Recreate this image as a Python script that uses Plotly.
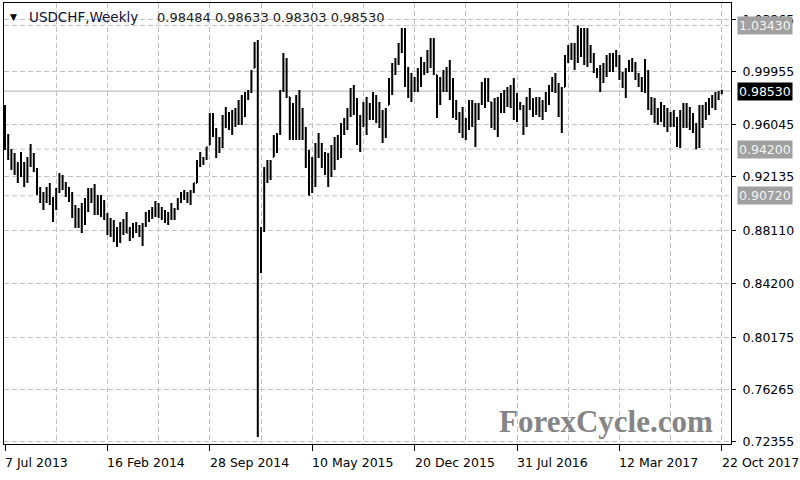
import pandas as pd
import plotly.graph_objects as go

symbol_title = "USDCHF,Weekly"
last_quote = "0.98484 0.98633 0.98303 0.98530"

dates = pd.date_range("2013-07-07", periods=225, freq="7D")

open_ = [
    0.9637, 0.9436, 0.9346, 0.9309, 0.9249, 0.9302, 0.9234, 0.9264, 0.9354, 0.9324,
    0.9257, 0.9085, 0.9033, 0.9078, 0.9085, 0.9011, 0.9048, 0.9123, 0.9175, 0.9123,
    0.9085, 0.9033, 0.8921, 0.8906, 0.8906, 0.8958, 0.9041, 0.9078, 0.9048, 0.9003,
    0.8996, 0.8966, 0.8899, 0.8839, 0.8809, 0.8765, 0.8802, 0.8839, 0.8876, 0.8794,
    0.8817, 0.8839, 0.8809, 0.8787, 0.8861, 0.8921, 0.8944, 0.8973, 0.8966, 0.8944,
    0.8921, 0.8906, 0.8944, 0.8936, 0.8973, 0.9048, 0.9078, 0.9063, 0.9063, 0.9108,
    0.9167, 0.9331, 0.9331, 0.9354, 0.9451, 0.9600, 0.9518, 0.9451, 0.9503, 0.9652,
    0.9630, 0.9622, 0.9652, 0.9690, 0.9712, 0.9749, 0.9824, 0.9854, 1.0025, 1.0182,
    0.8600, 0.8809, 0.9257, 0.9264, 0.9361, 0.9466, 0.9533, 0.9854, 0.9951, 0.9809,
    0.9630, 0.9652, 0.9675, 0.9607, 0.9496, 0.9287, 0.9227, 0.9302, 0.9443, 0.9376,
    0.9317, 0.9264, 0.9331, 0.9384, 0.9428, 0.9481, 0.9585, 0.9645, 0.9719, 0.9787,
    0.9682, 0.9540, 0.9667, 0.9667, 0.9697, 0.9742, 0.9719, 0.9675, 0.9593, 0.9615,
    0.9749, 0.9936, 1.0033, 1.0092, 1.0204, 1.0145, 0.9921, 0.9883, 0.9906, 0.9936,
    0.9995, 1.0025, 1.0063, 1.0137, 1.0115, 0.9973, 0.9854, 0.9928, 0.9936, 0.9936,
    0.9801, 0.9712, 0.9645, 0.9622, 0.9570, 0.9645, 0.9690, 0.9600, 0.9697, 0.9757,
    0.9839, 0.9861, 0.9772, 0.9682, 0.9660, 0.9764, 0.9779, 0.9809, 0.9816, 0.9794,
    0.9734, 0.9742, 0.9719, 0.9697, 0.9794, 0.9734, 0.9742, 0.9734, 0.9712, 0.9772,
    0.9824, 0.9891, 0.9913, 0.9846, 0.9712, 0.9883, 1.0115, 1.0152, 1.0115, 1.0204,
    1.0219, 1.0189, 1.0182, 1.0130, 1.0070, 0.9995, 0.9958, 0.9988, 1.0040, 1.0070,
    1.0070, 1.0100, 1.0040, 0.9943, 0.9913, 1.0018, 1.0048, 1.0003, 0.9943, 0.9898,
    0.9951, 0.9861, 0.9742, 0.9712, 0.9667, 0.9697, 0.9667, 0.9637, 0.9645, 0.9652,
    0.9593, 0.9570, 0.9667, 0.9667, 0.9652, 0.9615, 0.9548, 0.9585, 0.9660, 0.9704,
    0.9742, 0.9779, 0.9779, 0.9816, 0.98484,
]

high = [
    0.9749, 0.9533, 0.9421, 0.9391, 0.9324, 0.9399, 0.9324, 0.9361, 0.9458, 0.9391,
    0.9279, 0.9137, 0.9100, 0.9137, 0.9167, 0.9063, 0.9130, 0.9242, 0.9227, 0.9175,
    0.9137, 0.9100, 0.9003, 0.8981, 0.9018, 0.9055, 0.9130, 0.9130, 0.9160, 0.9078,
    0.9078, 0.9041, 0.8944, 0.8906, 0.8891, 0.8839, 0.8876, 0.8899, 0.8951, 0.8839,
    0.8869, 0.8876, 0.8854, 0.8869, 0.8951, 0.8966, 0.8988, 0.9033, 0.9018, 0.8988,
    0.8966, 0.8951, 0.9018, 0.8981, 0.9055, 0.9100, 0.9115, 0.9100, 0.9115, 0.9167,
    0.9339, 0.9399, 0.9361, 0.9436, 0.9690, 0.9690, 0.9578, 0.9510, 0.9675, 0.9734,
    0.9697, 0.9712, 0.9727, 0.9787, 0.9824, 0.9846, 0.9861, 1.0010, 1.0219, 1.0234,
    0.8839, 0.9287, 0.9339, 0.9339, 0.9525, 0.9540, 0.9861, 1.0137, 1.0100, 0.9809,
    0.9764, 0.9824, 0.9861, 0.9727, 0.9585, 0.9413, 0.9361, 0.9466, 0.9540, 0.9466,
    0.9399, 0.9391, 0.9451, 0.9510, 0.9525, 0.9615, 0.9652, 0.9727, 0.9876, 0.9898,
    0.9801, 0.9675, 0.9772, 0.9809, 0.9764, 0.9846, 0.9824, 0.9772, 0.9712, 0.9727,
    0.9951, 1.0063, 1.0100, 1.0212, 1.0324, 1.0324, 1.0033, 0.9988, 0.9958, 1.0025,
    1.0107, 1.0070, 1.0160, 1.0249, 1.0249, 0.9973, 0.9958, 1.0010, 1.0033, 1.0085,
    0.9951, 0.9787, 0.9697, 0.9734, 0.9652, 0.9787, 0.9787, 0.9764, 0.9764, 0.9921,
    0.9951, 0.9951, 0.9772, 0.9801, 0.9809, 0.9839, 0.9861, 0.9883, 0.9898, 0.9951,
    0.9839, 0.9772, 0.9749, 0.9809, 0.9876, 0.9801, 0.9809, 0.9809, 0.9787, 0.9846,
    0.9898, 0.9958, 0.9988, 0.9913, 0.9883, 1.0122, 1.0197, 1.0212, 1.0212, 1.0343,
    1.0324, 1.0324, 1.0324, 1.0197, 1.0137, 1.0025, 1.0048, 1.0063, 1.0122, 1.0137,
    1.0137, 1.0160, 1.0122, 0.9995, 1.0025, 1.0085, 1.0100, 1.0070, 0.9988, 0.9958,
    1.0092, 1.0010, 0.9809, 0.9801, 0.9727, 0.9772, 0.9749, 0.9727, 0.9697, 0.9712,
    0.9660, 0.9712, 0.9764, 0.9764, 0.9734, 0.9690, 0.9615, 0.9749, 0.9749, 0.9772,
    0.9801, 0.9824, 0.9846, 0.9852, 0.98633,
]

low = [
    0.9413, 0.9339, 0.9264, 0.9227, 0.9167, 0.9212, 0.9137, 0.9167, 0.9287, 0.9249,
    0.9078, 0.9018, 0.8966, 0.9018, 0.9003, 0.8876, 0.8966, 0.9093, 0.9115, 0.9063,
    0.9026, 0.8906, 0.8832, 0.8832, 0.8794, 0.8854, 0.8951, 0.9018, 0.8929, 0.8929,
    0.8914, 0.8891, 0.8779, 0.8765, 0.8727, 0.8690, 0.8720, 0.8779, 0.8794, 0.8735,
    0.8757, 0.8794, 0.8765, 0.8697, 0.8839, 0.8876, 0.8899, 0.8914, 0.8906, 0.8891,
    0.8869, 0.8854, 0.8891, 0.8891, 0.8966, 0.9018, 0.9041, 0.9018, 0.9003, 0.9093,
    0.9167, 0.9287, 0.9302, 0.9339, 0.9451, 0.9510, 0.9354, 0.9391, 0.9428, 0.9578,
    0.9563, 0.9525, 0.9585, 0.9600, 0.9600, 0.9660, 0.9787, 0.9839, 1.0025, 0.7272,
    0.8496, 0.8802, 0.9167, 0.9190, 0.9361, 0.9391, 0.9525, 0.9846, 0.9801, 0.9488,
    0.9488, 0.9488, 0.9488, 0.9488, 0.9279, 0.9072, 0.9093, 0.9137, 0.9354, 0.9279,
    0.9227, 0.9137, 0.9212, 0.9264, 0.9339, 0.9354, 0.9525, 0.9563, 0.9660, 0.9675,
    0.9451, 0.9399, 0.9585, 0.9525, 0.9637, 0.9637, 0.9615, 0.9578, 0.9466, 0.9503,
    0.9749, 0.9824, 0.9973, 1.0048, 1.0137, 0.9883, 0.9801, 0.9772, 0.9846, 0.9846,
    0.9883, 0.9973, 0.9988, 1.0025, 0.9973, 0.9652, 0.9749, 0.9846, 0.9846, 0.9787,
    0.9652, 0.9637, 0.9540, 0.9503, 0.9488, 0.9563, 0.9585, 0.9436, 0.9637, 0.9749,
    0.9727, 0.9772, 0.9578, 0.9563, 0.9510, 0.9690, 0.9690, 0.9734, 0.9727, 0.9637,
    0.9622, 0.9712, 0.9525, 0.9585, 0.9712, 0.9660, 0.9675, 0.9660, 0.9637, 0.9697,
    0.9749, 0.9846, 0.9839, 0.9660, 0.9540, 0.9883, 1.0063, 1.0085, 1.0010, 1.0063,
    1.0107, 1.0048, 1.0033, 1.0063, 0.9988, 0.9951, 0.9846, 0.9913, 0.9958, 0.9995,
    0.9995, 1.0033, 0.9936, 0.9876, 0.9801, 0.9995, 0.9995, 0.9936, 0.9883, 0.9846,
    0.9839, 0.9712, 0.9675, 0.9615, 0.9600, 0.9622, 0.9585, 0.9548, 0.9585, 0.9585,
    0.9435, 0.9428, 0.9578, 0.9578, 0.9563, 0.9540, 0.9420, 0.9428, 0.9578, 0.9637,
    0.9675, 0.9727, 0.9712, 0.9787, 0.98303,
]

close = [
    0.9436, 0.9346, 0.9309, 0.9249, 0.9302, 0.9234, 0.9264, 0.9354, 0.9324, 0.9257,
    0.9085, 0.9033, 0.9078, 0.9085, 0.9011, 0.9048, 0.9123, 0.9175, 0.9123, 0.9085,
    0.9033, 0.8921, 0.8906, 0.8906, 0.8958, 0.9041, 0.9078, 0.9048, 0.9003, 0.8996,
    0.8966, 0.8899, 0.8839, 0.8809, 0.8765, 0.8802, 0.8839, 0.8876, 0.8794, 0.8817,
    0.8839, 0.8809, 0.8787, 0.8861, 0.8921, 0.8944, 0.8973, 0.8966, 0.8944, 0.8921,
    0.8906, 0.8944, 0.8936, 0.8973, 0.9048, 0.9078, 0.9063, 0.9063, 0.9108, 0.9167,
    0.9331, 0.9331, 0.9354, 0.9436, 0.9600, 0.9518, 0.9451, 0.9503, 0.9652, 0.9630,
    0.9622, 0.9652, 0.9690, 0.9712, 0.9749, 0.9824, 0.9854, 1.0003, 1.0182, 0.8600,
    0.8809, 0.9257, 0.9264, 0.9331, 0.9466, 0.9533, 0.9854, 0.9951, 0.9809, 0.9630,
    0.9652, 0.9675, 0.9607, 0.9496, 0.9287, 0.9227, 0.9302, 0.9443, 0.9376, 0.9317,
    0.9264, 0.9331, 0.9384, 0.9428, 0.9481, 0.9585, 0.9645, 0.9719, 0.9787, 0.9682,
    0.9540, 0.9667, 0.9667, 0.9697, 0.9742, 0.9719, 0.9675, 0.9593, 0.9615, 0.9719,
    0.9936, 1.0033, 1.0092, 1.0204, 1.0145, 0.9921, 0.9883, 0.9906, 0.9936, 0.9995,
    1.0025, 1.0063, 1.0137, 1.0115, 0.9980, 0.9854, 0.9928, 0.9936, 0.9936, 0.9801,
    0.9712, 0.9645, 0.9622, 0.9570, 0.9645, 0.9690, 0.9600, 0.9697, 0.9757, 0.9839,
    0.9861, 0.9779, 0.9682, 0.9660, 0.9764, 0.9779, 0.9809, 0.9816, 0.9794, 0.9734,
    0.9742, 0.9719, 0.9697, 0.9794, 0.9734, 0.9742, 0.9734, 0.9712, 0.9772, 0.9824,
    0.9891, 0.9913, 0.9846, 0.9712, 0.9876, 1.0115, 1.0152, 1.0115, 1.0204, 1.0219,
    1.0189, 1.0182, 1.0130, 1.0070, 0.9995, 0.9958, 0.9988, 1.0040, 1.0070, 1.0070,
    1.0100, 1.0040, 0.9943, 0.9913, 1.0018, 1.0048, 1.0003, 0.9943, 0.9898, 0.9951,
    0.9861, 0.9742, 0.9712, 0.9667, 0.9697, 0.9667, 0.9637, 0.9645, 0.9652, 0.9593,
    0.9570, 0.9667, 0.9667, 0.9652, 0.9615, 0.9548, 0.9585, 0.9660, 0.9704, 0.9742,
    0.9779, 0.9779, 0.9816, 0.98484, 0.98530,
]

ytick_vals = [0.72355, 0.76265, 0.80175, 0.84200, 0.88110, 0.92135, 0.96045, 0.99955, 1.03865]
xtick_labels = ["7 Jul 2013", "16 Feb 2014", "28 Sep 2014", "10 May 2015",
                "20 Dec 2015", "31 Jul 2016", "12 Mar 2017", "22 Oct 2017"]
level_lines = [1.03430, 0.94200, 0.90720]
last_price = 0.98530

FONT = "DejaVu Sans"
GRID = "#c0c0c0"
WEEK_MS = 7 * 24 * 3600 * 1000

fig = go.Figure(go.Ohlc(
    x=dates, open=open_, high=high, low=low, close=close,
    increasing=dict(line=dict(color="#000000", width=2)),
    decreasing=dict(line=dict(color="#000000", width=2)),
    tickwidth=0.3, hoverinfo="skip", showlegend=False,
))

fig.update_layout(
    width=800, height=480,
    margin=dict(l=4, r=69, t=3, b=36),
    paper_bgcolor="white", plot_bgcolor="white",
    showlegend=False,
)

fig.update_xaxes(
    type="date",
    range=[dates[0] - pd.Timedelta(hours=52.5), dates[0] + pd.Timedelta(days=1588.1)],
    tickmode="linear", tick0="2013-07-07", dtick=32 * WEEK_MS,
    ticks="outside", ticklen=6, tickcolor="black", showticklabels=False,
    showgrid=True, gridcolor=GRID, griddash="5px,3px", gridwidth=1,
    minor=dict(tick0="2013-07-07", dtick=16 * WEEK_MS, showgrid=True,
               gridcolor=GRID, griddash="5px,3px", ticks=""),
    showline=True, linecolor="black", linewidth=1, mirror=True,
    zeroline=False, rangeslider=dict(visible=False), fixedrange=True,
)

fig.update_yaxes(
    side="right", range=[0.72203, 1.05101],
    tickmode="array", tickvals=ytick_vals,
    ticktext=[f"{v:.5f}" for v in ytick_vals],
    ticks="outside", ticklen=4, tickcolor="black",
    tickfont=dict(family=FONT, size=12.5, color="black"),
    ticklabelstandoff=4,
    showgrid=True, gridcolor=GRID, griddash="5px,3px", gridwidth=1,
    showline=True, linecolor="black", linewidth=1, mirror=True,
    zeroline=False, fixedrange=True,
)

# horizontal level lines
for lv in level_lines:
    fig.add_shape(type="line", xref="paper", x0=0, x1=1, yref="y", y0=lv, y1=lv,
                  line=dict(color=GRID, width=1, dash="5px,3px"), layer="below")
fig.add_shape(type="line", xref="paper", x0=0, x1=1, yref="y", y0=last_price, y1=last_price,
              line=dict(color="#b0b0b0", width=1), layer="below")

# price boxes on the right
for lv in level_lines:
    fig.add_annotation(xref="paper", x=1, xanchor="left", xshift=6, yref="y", y=lv,
                       text=f"{lv:.5f}", showarrow=False, bgcolor="#a0a0a0",
                       borderpad=1, font=dict(family=FONT, size=12.5, color="#f4f4f4"))
fig.add_annotation(xref="paper", x=1, xanchor="left", xshift=6, yref="y", y=last_price,
                   text=f"{last_price:.5f}", showarrow=False, bgcolor="#000000",
                   borderpad=1, font=dict(family=FONT, size=12.5, color="#ffffff"))

# x tick labels, left aligned at the tick
for d, lab in zip(dates[::32], xtick_labels):
    fig.add_annotation(xref="x", x=d, xanchor="left", xshift=-2, yref="paper", y=0,
                       yanchor="middle", yshift=-18, text=lab, showarrow=False,
                       font=dict(family=FONT, size=12.5, color="black"))

# chart header
fig.add_annotation(xref="paper", x=0, xanchor="left", xshift=4, yref="paper", y=1,
                   yanchor="middle", yshift=-14, text="▼", showarrow=False,
                   font=dict(family=FONT, size=9, color="black"))
fig.add_annotation(xref="paper", x=0, xanchor="left", xshift=23, yref="paper", y=1,
                   yanchor="middle", yshift=-14, text=symbol_title, showarrow=False,
                   font=dict(family=FONT, size=13.5, color="#10103a"))
fig.add_annotation(xref="paper", x=0, xanchor="left", xshift=151, yref="paper", y=1,
                   yanchor="middle", yshift=-14, text=last_quote, showarrow=False,
                   font=dict(family=FONT, size=13, color="#202020"))

# watermark
fig.add_annotation(xref="paper", x=0, xanchor="left", xshift=493, yref="paper", y=1,
                   yanchor="middle", yshift=-418, text="<b>ForexCycle.com</b>", showarrow=False,
                   font=dict(family="Liberation Serif", size=31, color="#858585"))

fig.write_html(
    "out.html",
    config={"displayModeBar": False},
    post_script="document.body.style.margin='0px';document.body.style.overflow='hidden';",
)
